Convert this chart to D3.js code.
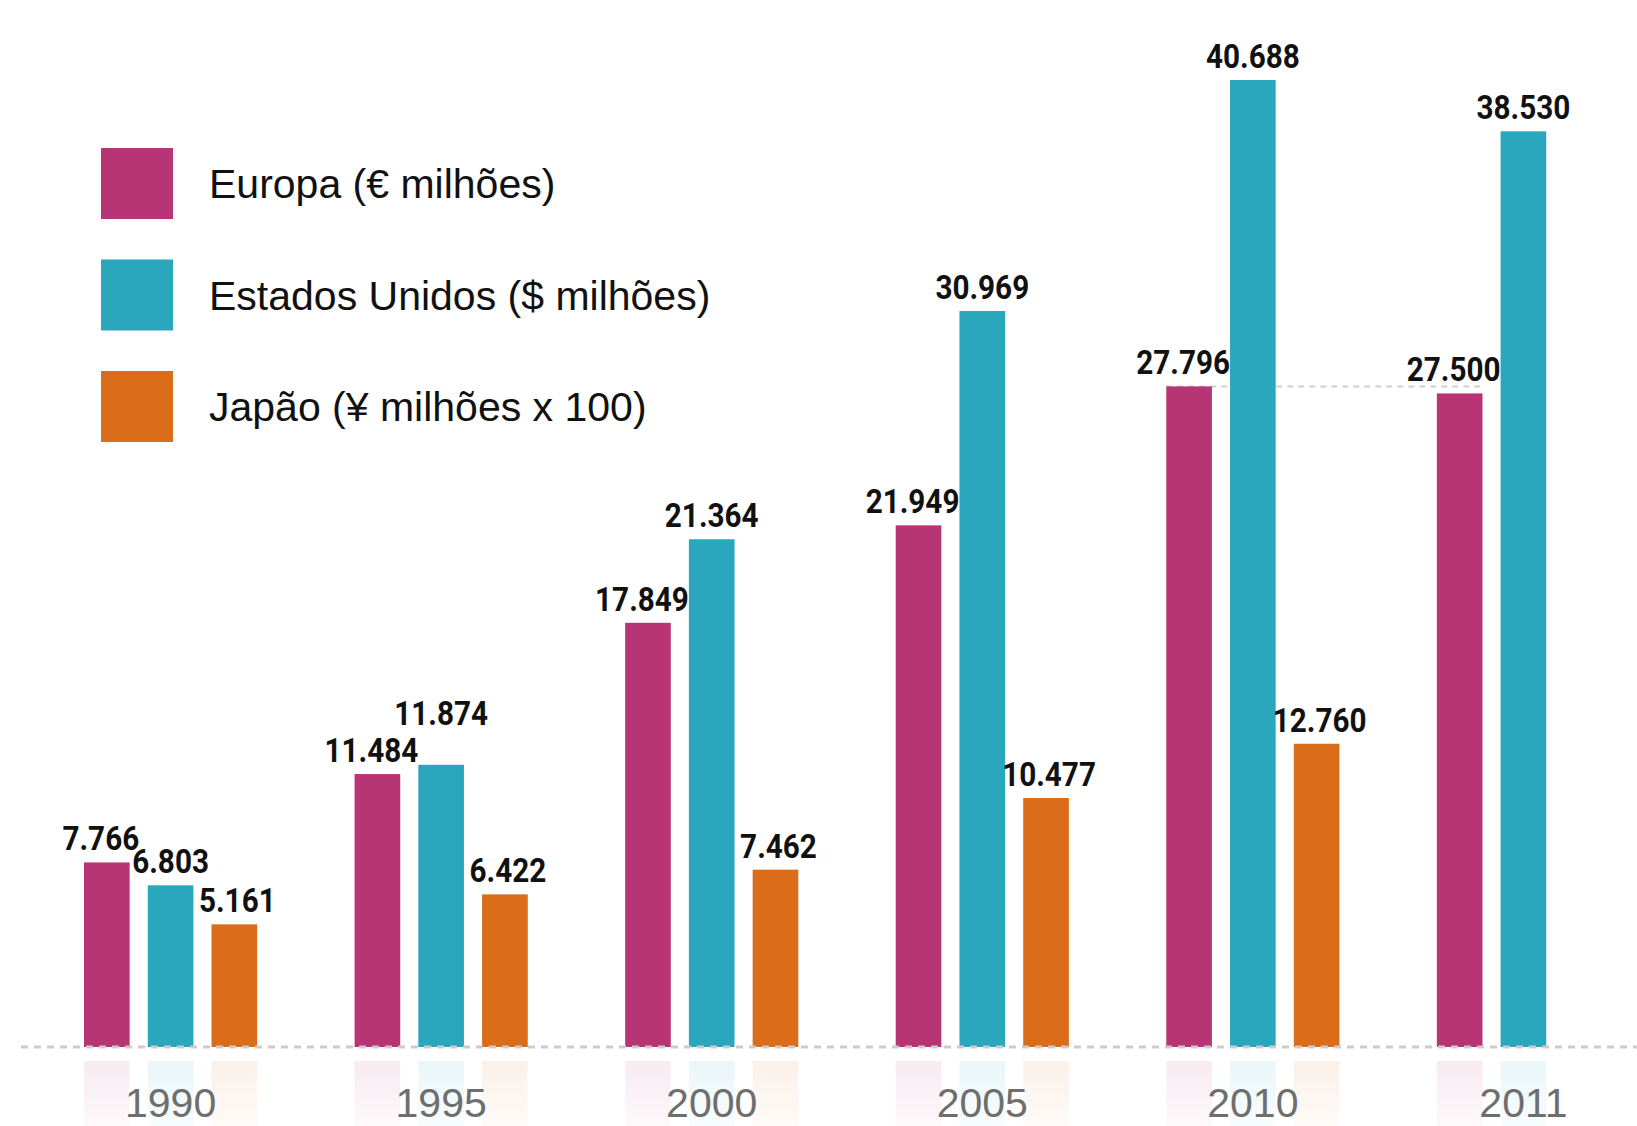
<!DOCTYPE html>
<html>
<head>
<meta charset="utf-8">
<script src="https://cdn.jsdelivr.net/npm/d3@7"></script>
<style>
  html, body { margin: 0; padding: 0; background: #fff; }
  svg { display: block; }
</style>
</head>
<body>
<svg id="chart" width="1637" height="1126"></svg>
<script>
// Data
const years = ['1990', '1995', '2000', '2005', '2010', '2011'];
const seriesKeys = ['europa', 'eua', 'japao'];
const seriesNames = ['Europa (€ milhões)', 'Estados Unidos ($ milhões)', 'Japão (¥ milhões x 100)'];
const europa = [7766, 11484, 17849, 21949, 27796, 27500];
const eua = [6803, 11874, 21364, 30969, 40688, 38530];
const japao = [5161, 6422, 7462, 10477, 12760, null];

const seriesValues = { europa, eua, japao };
const colors = { europa: '#b73475', eua: '#2aa7bd', japao: '#db6c19' };
const labelNudge = { europa: -6, eua: 0, japao: 3 };

const W = 1637;
const H = 1126;
const baseY = 1047;
const topY = 80;
const LABEL_GAP = 12;
const LABEL_CAP = 23;
const LABEL_SQUEEZE = 0.9; // narrow the bold digits to look condensed

const svg = d3.select('#chart');

const x = d3.scaleBand().domain(years).range([84, 1610]).paddingInner(0.36);
const xs = d3.scaleBand().domain(seriesKeys).range([0, x.bandwidth()]).paddingInner(0.284);
const allValues = [...europa, ...eua, ...japao].filter((v) => v != null);
const y = d3.scaleLinear().domain([0, d3.max(allValues)]).range([baseY, topY]);

const fmt = d3.formatLocale({ decimal: ',', thousands: '.', grouping: [3], currency: ['', ''] }).format(',d');

// flatten into bar records
const bars = [];
years.forEach((year, i) => {
  seriesKeys.forEach((key) => {
    const v = seriesValues[key][i];
    if (v == null) return;
    bars.push({ year, key, value: v });
  });
});

// gradients for the faint reflections under the baseline
const defs = svg.append('defs');
seriesKeys.forEach((key) => {
  const g = defs.append('linearGradient')
    .attr('id', `refl-${key}`)
    .attr('x1', 0).attr('y1', 0).attr('x2', 0).attr('y2', 1);
  g.append('stop').attr('offset', '0%').attr('stop-color', colors[key]).attr('stop-opacity', 0.1);
  g.append('stop').attr('offset', '100%').attr('stop-color', colors[key]).attr('stop-opacity', 0.03);
});

svg.append('g')
  .selectAll('rect')
  .data(bars)
  .join('rect')
  .attr('x', (d) => x(d.year) + xs(d.key))
  .attr('y', baseY + 14)
  .attr('width', xs.bandwidth())
  .attr('height', H - baseY - 14)
  .attr('fill', (d) => `url(#refl-${d.key})`);

// reference line: Europa 2010 level carried to 2011
const refIdx = years.indexOf('2010');
svg.append('line')
  .attr('x1', x('2010') + xs('europa'))
  .attr('x2', x('2011') + xs('europa') + xs.bandwidth())
  .attr('y1', y(europa[refIdx]))
  .attr('y2', y(europa[refIdx]))
  .style('stroke', '#cfcfcf')
  .style('stroke-width', 2)
  .style('stroke-dasharray', '6,5');

// bars
svg.append('g')
  .selectAll('rect')
  .data(bars)
  .join('rect')
  .attr('x', (d) => x(d.year) + xs(d.key))
  .attr('y', (d) => y(d.value))
  .attr('width', xs.bandwidth())
  .attr('height', (d) => baseY - y(d.value))
  .attr('fill', (d) => colors[d.key]);

// dashed baseline drawn over the bars
svg.append('line')
  .attr('x1', 21).attr('x2', W)
  .attr('y1', baseY).attr('y2', baseY)
  .style('stroke', '#cccccc')
  .style('stroke-width', 3)
  .style('stroke-dasharray', '7,6');

// value labels, lifted when they clearly collide with the neighbour's label
const labelG = svg.append('g');
years.forEach((year) => {
  const placed = [];
  bars.filter((d) => d.year === year).forEach((d) => {
    const cx = x(d.year) + xs(d.key) + xs.bandwidth() / 2 + labelNudge[d.key];
    const t = labelG.append('text')
      .attr('text-anchor', 'middle')
      .style('font-family', 'Roboto, "DejaVu Sans Condensed", sans-serif')
      .style('font-weight', 700)
      .style('font-size', '33px')
      .style('fill', '#111')
      .text(fmt(d.value));
    const w = t.node().getComputedTextLength() * LABEL_SQUEEZE;
    let base = y(d.value) - LABEL_GAP;
    const box = () => ({ l: cx - w / 2, r: cx + w / 2, t: base - LABEL_CAP, b: base });
    placed.forEach((p) => {
      const b = box();
      const overlapY = Math.min(b.b, p.b) - Math.max(b.t, p.t);
      if (b.l < p.r && b.r > p.l && overlapY > 6) {
        base = p.t - 14;
      }
    });
    t.attr('transform', `translate(${cx},${base}) scale(${LABEL_SQUEEZE},1)`);
    placed.push(box());
  });
});

// year labels under the middle slot of each group
svg.append('g')
  .selectAll('text')
  .data(years)
  .join('text')
  .attr('x', (d) => x(d) + xs('eua') + xs.bandwidth() / 2)
  .attr('y', 1117)
  .attr('text-anchor', 'middle')
  .style('font-family', '"Liberation Sans", Arial, sans-serif')
  .style('font-size', '41px')
  .style('fill', '#6e6e6e')
  .text((d) => d);

// legend
const legend = svg.append('g').attr('transform', 'translate(101, 148)');
seriesKeys.forEach((key, i) => {
  const row = legend.append('g').attr('transform', `translate(0, ${i * 111.5})`);
  row.append('rect')
    .attr('width', 72)
    .attr('height', 71)
    .attr('fill', colors[key]);
  row.append('text')
    .attr('x', 108)
    .attr('y', 50)
    .style('font-family', '"Liberation Sans", Arial, sans-serif')
    .style('font-size', '41px')
    .style('fill', '#111')
    .text(seriesNames[i]);
});
</script>
</body>
</html>
